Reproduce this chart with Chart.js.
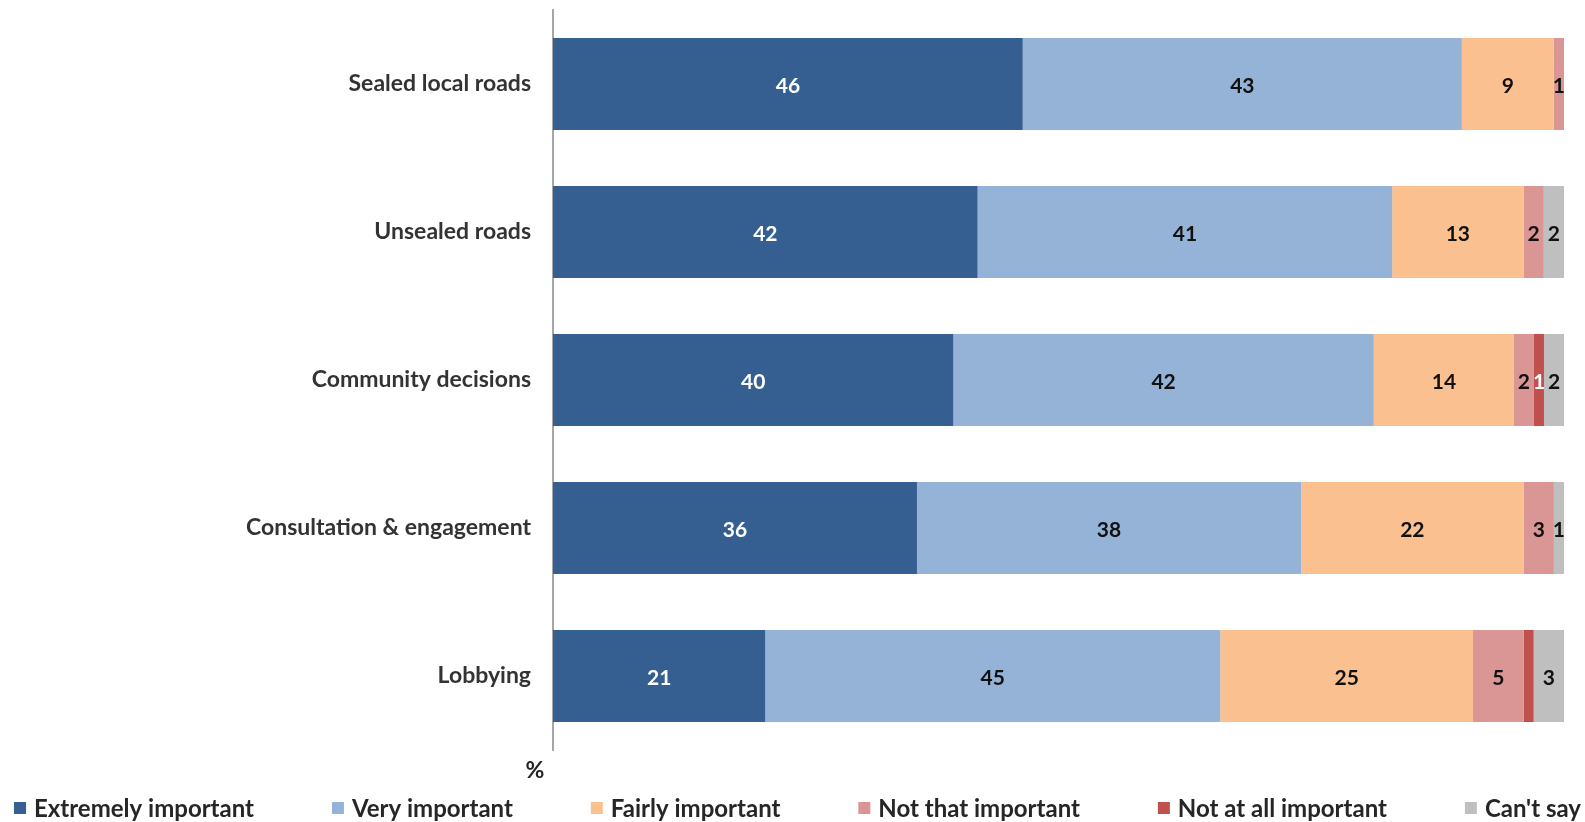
<!DOCTYPE html>
<html><head><meta charset="utf-8">
<script src="https://cdn.jsdelivr.net/npm/chart.js@4"></script>
<style>html,body{margin:0;padding:0;background:#fff;}#wrap{width:1585px;height:822px;}</style>
</head><body><div id="wrap"><canvas id="c" width="1585" height="822"></canvas></div>
<script>
const categories = ['Sealed local roads', 'Unsealed roads', 'Community decisions', 'Consultation & engagement', 'Lobbying'];
const seriesNames = ['Extremely important', 'Very important', 'Fairly important', 'Not that important', 'Not at all important', "Can't say"];
const extremely = [46, 42, 40, 36, 21];
const very = [43, 41, 42, 38, 45];
const fairly = [9, 13, 14, 22, 25];
const notThat = [1, 2, 2, 3, 5];
const notAtAll = [0, 0, 1, 0, 1];
const cantSay = [0, 2, 2, 1, 3];
const notAtAllLabelShown = [false, false, true, false, false];
const axisTitle = '%';

const colors = ['#365F91', '#95B3D7', '#FAC090', '#D99694', '#C0504D', '#BFBFBF'];
const labelColors = ['#FFFFFF', '#111111', '#111111', '#111111', '#FFFFFF', '#111111'];
const FONT = 'Lato, "Liberation Sans", sans-serif';

const raw = [extremely, very, fairly, notThat, notAtAll, cantSay];
const rowSums = categories.map((_, i) => raw.reduce((s, arr) => s + arr[i], 0));

const datasets = raw.map((arr, k) => ({
  label: seriesNames[k],
  data: arr.map((v, i) => v / rowSums[i] * 100),
  rawValues: arr,
  backgroundColor: colors[k],
  borderWidth: 0,
  barPercentage: 0.62,
  categoryPercentage: 1.0
}));

const labelPlugin = {
  id: 'barLabels',
  afterDatasetsDraw(chart) {
    const ctx = chart.ctx;
    ctx.save();
    ctx.font = 'bold 21px ' + FONT;
    ctx.textAlign = 'center';
    ctx.textBaseline = 'middle';
    chart.data.datasets.forEach((ds, k) => {
      const meta = chart.getDatasetMeta(k);
      meta.data.forEach((el, i) => {
        const v = ds.rawValues[i];
        if (!v) return;
        if (k === 4 && !notAtAllLabelShown[i]) return;
        const p = el.getCenterPoint();
        ctx.fillStyle = labelColors[k];
        ctx.fillText(String(v), p.x, p.y + 2);
      });
    });
    // axis title
    const ys = chart.scales.y;
    ctx.font = 'bold 23px ' + FONT;
    ctx.fillStyle = '#222';
    ctx.fillText(axisTitle, ys.right - 18, chart.chartArea.bottom + 21);
    // legend
    ctx.font = 'bold 24px ' + FONT;
    const items = chart.data.datasets.map(d => ({ text: d.label, color: d.backgroundColor }));
    const box = 12, gapBox = 8;
    const widths = items.map(it => box + gapBox + ctx.measureText(it.text).width);
    const left = 14, right = 1581;
    const total = widths.reduce((a, b) => a + b, 0);
    const gap = (right - left - total) / (items.length - 1);
    let x = left;
    const yc = 808;
    ctx.textAlign = 'left';
    items.forEach((it, j) => {
      ctx.fillStyle = it.color;
      ctx.fillRect(x, yc - box / 2, box, box);
      ctx.fillStyle = '#262626';
      ctx.fillText(it.text, x + box + gapBox, yc + 1);
      x += widths[j] + gap;
    });
    ctx.restore();
  }
};

new Chart(document.getElementById('c'), {
  type: 'bar',
  data: { labels: categories, datasets },
  options: {
    indexAxis: 'y',
    responsive: false,
    animation: false,
    layout: { padding: { top: 10, right: 21, bottom: 72, left: 0 } },
    plugins: { legend: { display: false }, tooltip: { enabled: false } },
    scales: {
      x: { stacked: true, min: 0, max: 100, display: false },
      y: {
        stacked: true,
        grid: { display: false, drawTicks: false },
        border: { display: true, color: '#A6A6A6', width: 2 },
        ticks: { color: '#333333', font: { family: FONT, size: 23, weight: 'bold' }, padding: 22 },
        afterFit(scale) { scale.width = 553; scale.paddingTop = 0; scale.paddingBottom = 0; }
      }
    }
  },
  plugins: [labelPlugin]
});
</script>
</body></html>
